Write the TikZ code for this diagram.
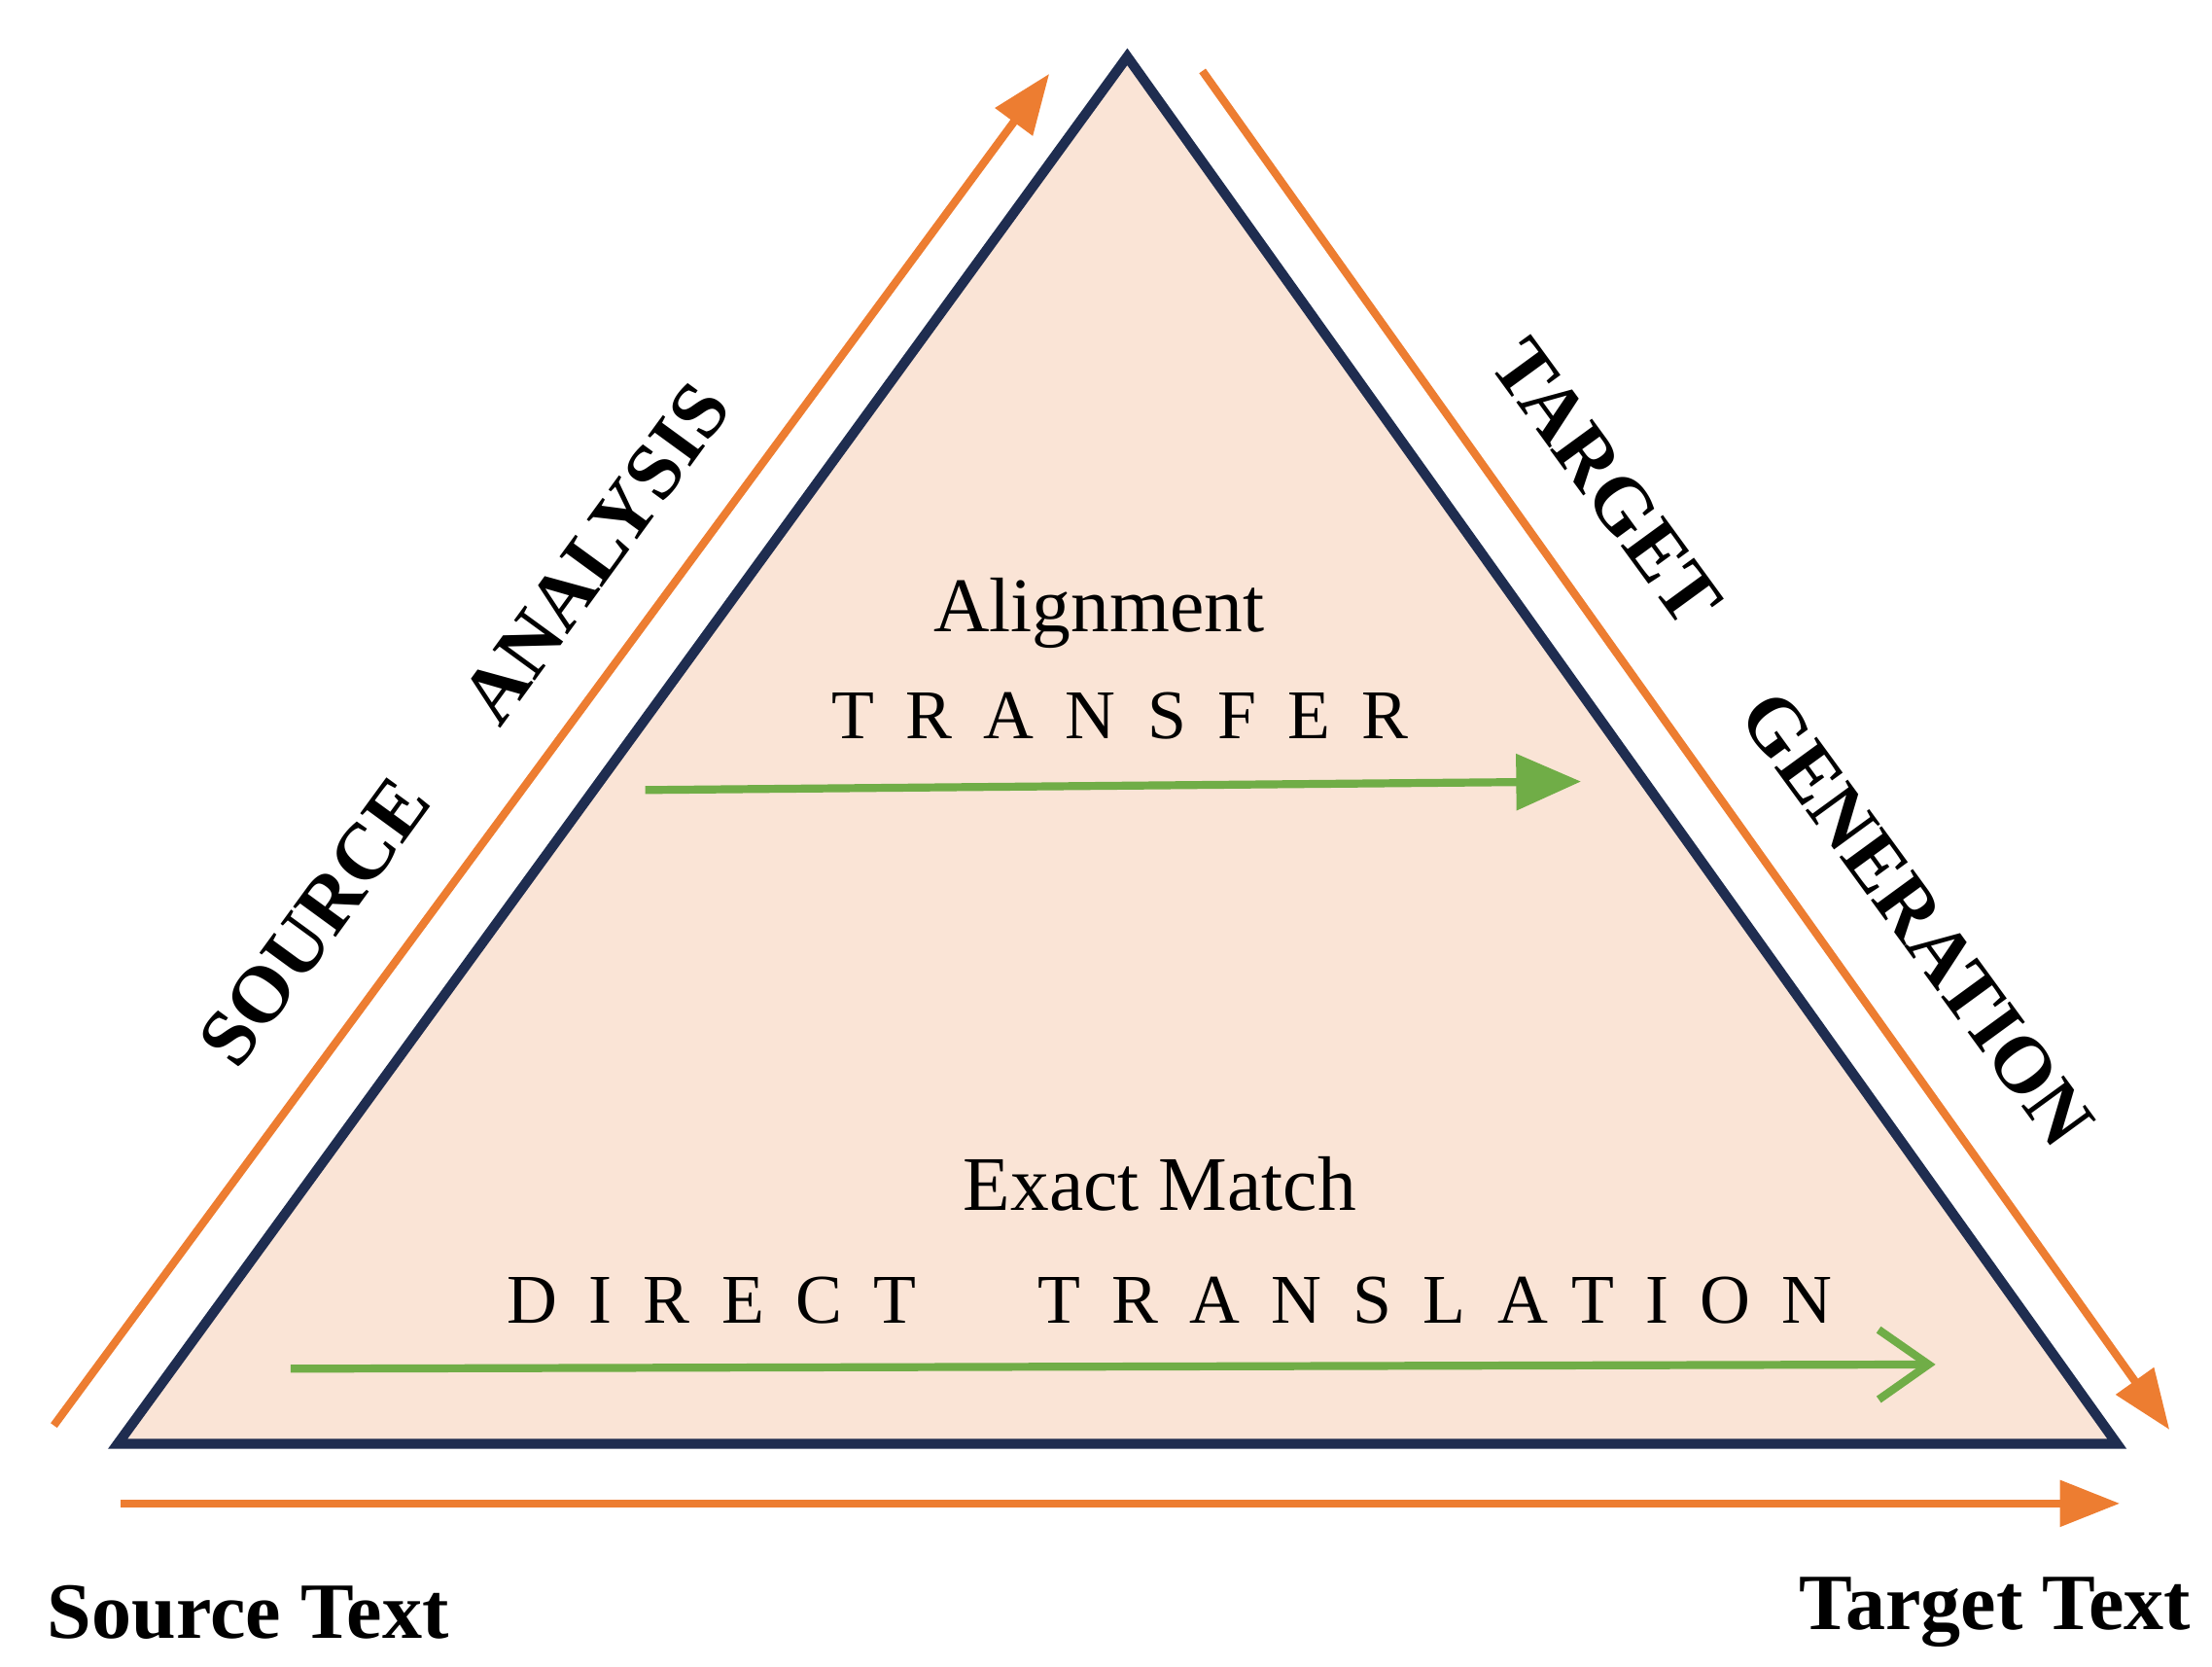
\documentclass[tikz,border=0pt]{standalone}
\usepackage{fontspec}
\setmainfont{Liberation Serif}
\usetikzlibrary{calc,positioning,arrows.meta}
\definecolor{peach}{RGB}{250,228,214}
\definecolor{navy}{RGB}{31,45,80}
\definecolor{flow}{RGB}{237,125,49}
\definecolor{leaf}{RGB}{112,173,71}
\begin{document}
\begin{tikzpicture}[x=0.01cm, y=-0.01cm]
        \tikzstyle{flowarrow}=[flow, line width=1.6pt, -{Triangle[length=12pt,width=9pt]}]
        \tikzstyle{pass}=[leaf, line width=1.6pt]
        \tikzstyle{side}=[font=\fontsize{16}{19}\selectfont\bfseries]
        \tikzstyle{spaced}=[font=\fontsize{14}{17}\selectfont\addfontfeature{LetterSpace=45}]
        \tikzstyle{small}=[font=\fontsize{15.5}{18}\selectfont]
        \useasboundingbox (0,0) rectangle (1560,1175);

        % Triangle corners
        \coordinate (apex) at (795,40);
        \coordinate (left) at (83,1018);
        \coordinate (right) at (1493,1018);
        \draw[navy, line width=2pt, fill=peach] (left) -- (apex) -- (right) -- cycle;

        % Orange flow arrows
        \coordinate (sa1) at (38,1005);  \coordinate (sa2) at (740,52);
        \coordinate (tg1) at (848,50);   \coordinate (tg2) at (1530,1008);
        \coordinate (st1) at (85,1060);  \coordinate (st2) at (1495,1060);
        \draw[flowarrow] (sa1) -- (sa2);
        \draw[flowarrow] (tg1) -- (tg2);
        \draw[flowarrow] (st1) -- (st2);

        % Green transfer arrows
        \coordinate (tr1) at (455,557);  \coordinate (tr2) at (1115,551);
        \coordinate (dt1) at (205,965);  \coordinate (dt2) at (1365,962);
        \draw[pass, -{Triangle[length=13pt,width=11pt]}] (tr1) -- (tr2);
        \draw[pass, -{Straight Barb[length=10pt,width=14pt]}] (dt1) -- (dt2);

        % Labels inside
        \node[small] (align) at (775,432) {Alignment};
        \node[spaced] (transfer) at (790,505) {TRANSFER};
        \node[small] (exact) at (818,835) {Exact Match};
        \node[spaced] (direct) at (502,917) {DIRECT};
        \node[spaced] (translation) at (1012,917) {TRANSLATION};

        % Labels along the sides
        \node[side, rotate=53.9] (source) at (222,650) {SOURCE};
        \node[side, rotate=53.9] (analysis) at (420,390) {ANALYSIS};
        \node[side, rotate=-53.9] (target) at (1133,340) {TARGET};
        \node[side, rotate=-53.9] (generation) at (1352,648) {GENERATION};

        % End points
        \node[side] (srctext) at (175,1137) {Source Text};
        \node[side] (tgttext) at (1407,1137) {Target Text};
\end{tikzpicture}
\end{document}
